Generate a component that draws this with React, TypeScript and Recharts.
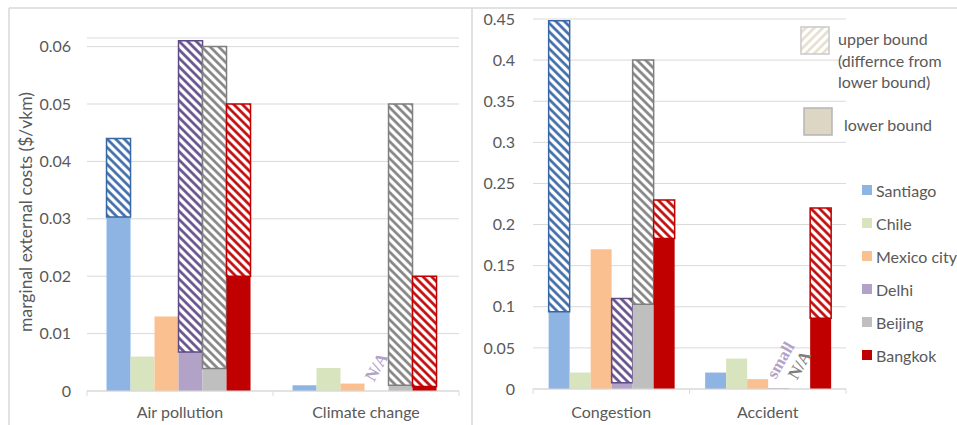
import React from 'react'
import { BarChart, Bar, XAxis, YAxis, CartesianGrid, LabelList } from 'recharts'

if (typeof document !== 'undefined') document.body.style.margin = '0'

const cities = ['Santiago', 'Chile', 'Mexico city', 'Delhi', 'Beijing', 'Bangkok']
const cityColors = ['#8eb4e3', '#d7e4bd', '#fac090', '#b3a2c7', '#bfbfbf', '#c00000']
const hatchColors = ['#3867a6', '#9bbb59', '#f79646', '#5f4a86', '#7f7f7f', '#c00000']
const noteColors = ['#8eb4e3', '#d7e4bd', '#fac090', '#b3a2c7', '#7f7f7f', '#c00000']

const leftCategories = ['Air pollution', 'Climate change']
const rightCategories = ['Congestion', 'Accident']
const leftTicks = [0, 0.01, 0.02, 0.03, 0.04, 0.05, 0.06]
const rightTicks = [0, 0.05, 0.1, 0.15, 0.2, 0.25, 0.3, 0.35, 0.4, 0.45]

// lower bound per city, upper bound (total) per city, null = no upper bound
const airLower = [0.0303, 0.006, 0.013, 0.0068, 0.0039, 0.02]
const airUpper = [0.044, null, null, 0.061, 0.06, 0.05]
const climateLower = [0.001, 0.004, 0.0013, 0, 0.001, 0.0008]
const climateUpper = [null, null, null, null, 0.05, 0.02]
const congestionLower = [0.094, 0.02, 0.17, 0.0077, 0.103, 0.183]
const congestionUpper = [0.448, null, null, 0.11, 0.4, 0.23]
const accidentLower = [0.02, 0.037, 0.012, 0.001, 0, 0.086]
const accidentUpper = [null, null, null, null, null, 0.22]

const airNotes: (string | null)[] = [null, null, null, null, null, null]
const climateNotes = [null, null, null, 'N/A', null, null]
const congestionNotes: (string | null)[] = [null, null, null, null, null, null]
const accidentNotes = [null, null, null, 'small', 'N/A', null]

const FONT = 'Lato, "Open Sans", sans-serif'
const TEXT = '#595959'
const GRID = '#d9d9d9'

function buildRow(name: string, lower: number[], upper: (number | null)[], notes: (string | null)[]) {
  const row: any = { name }
  cities.forEach((_, i) => {
    row[`lo${i}`] = lower[i]
    row[`up${i}`] = upper[i] == null ? 0 : (upper[i] as number) - lower[i]
    row[`nb${i}`] = 0
    row[`note${i}`] = notes[i]
  })
  return row
}

const leftData = [
  buildRow(leftCategories[0], airLower, airUpper, airNotes),
  buildRow(leftCategories[1], climateLower, climateUpper, climateNotes),
]
const rightData = [
  buildRow(rightCategories[0], congestionLower, congestionUpper, congestionNotes),
  buildRow(rightCategories[1], accidentLower, accidentUpper, accidentNotes),
]

function CategoryTick(props: any) {
  const { x, y, payload, index, half, labelDy } = props
  return (
    <g>
      {index === 0 && <line x1={x - half} x2={x - half} y1={y} y2={y + 5} stroke={GRID} />}
      <line x1={x + half} x2={x + half} y1={y} y2={y + 5} stroke={GRID} />
      <text x={x} y={y + labelDy} textAnchor="middle" fill={TEXT} fontSize={16} fontFamily={FONT}>
        {payload.value}
      </text>
    </g>
  )
}

const renderNote = (i: number) => (props: any) => {
  const { x, y, width, height, value } = props
  if (!value) return null
  const cx = Number(x) + Number(width) / 2 + (value === 'small' ? 2 : 0)
  const cy = Number(y) + Number(height) - (value === 'small' ? 28 : 24)
  return (
    <text
      x={cx}
      y={cy}
      transform={`rotate(-60 ${cx} ${cy})`}
      textAnchor="middle"
      dominantBaseline="central"
      fill={noteColors[i]}
      fontSize={17}
      fontWeight="bold"
      fontFamily='"Liberation Serif", serif'
    >
      {value}
    </text>
  )
}

function Panel(props: any) {
  const { data, width, height, margin, domain, ticks, yWidth, tickMargin, gap, prefix, labelDy } = props
  const plotW = width - margin.left - margin.right - yWidth
  const half = plotW / data.length / 2
  return (
    <BarChart width={width} height={height} data={data} margin={margin} barCategoryGap={gap} barGap={0}>
      <defs>
        {cities.map((c, i) => (
          <pattern
            key={c}
            id={`${prefix}h${i}`}
            width={6}
            height={6}
            patternUnits="userSpaceOnUse"
            patternTransform="rotate(-45)"
          >
            <rect width={6} height={6} fill="#ffffff" />
            <line x1={1.5} x2={1.5} y1={0} y2={6} stroke={hatchColors[i]} strokeWidth={2.6} />
          </pattern>
        ))}
      </defs>
      <CartesianGrid vertical={false} stroke={GRID} />
      <XAxis
        dataKey="name"
        axisLine={{ stroke: GRID }}
        tickLine={false}
        tickSize={0}
        tickMargin={0}
        height={30}
        interval={0}
        tick={(p: any) => <CategoryTick {...p} half={half} labelDy={labelDy} />}
      />
      <YAxis
        type="number"
        domain={domain}
        ticks={ticks}
        interval={0}
        width={yWidth}
        axisLine={false}
        tickLine={false}
        tickSize={0}
        tickMargin={tickMargin}
        tick={{ fill: TEXT, fontSize: 16, fontFamily: FONT }}
      />
      {cities.map((c, i) => [
        <Bar key={`lo${i}`} dataKey={`lo${i}`} stackId={`s${i}`} fill={cityColors[i]} isAnimationActive={false} />,
        <Bar
          key={`up${i}`}
          dataKey={`up${i}`}
          stackId={`s${i}`}
          fill={`url(#${prefix}h${i})`}
          stroke={hatchColors[i]}
          strokeWidth={1.5}
          isAnimationActive={false}
        />,
        <Bar
          key={`nb${i}`}
          dataKey={`nb${i}`}
          stackId={`s${i}`}
          fill="none"
          legendType="none"
          minPointSize={(v: any, idx: number) => (data[idx] && data[idx][`note${i}`] ? 0.01 : 0)}
          isAnimationActive={false}
        >
          <LabelList dataKey={`note${i}`} content={renderNote(i)} />
        </Bar>,
      ])}
    </BarChart>
  )
}

export default function App() {
  return (
    <div style={{ position: 'relative', width: 957, height: 425, overflow: 'hidden', background: '#fff', fontFamily: FONT }}>
      <svg width={957} height={425} style={{ position: 'absolute', left: 0, top: 0 }}>
        <line x1={9} x2={957} y1={8} y2={8} stroke={GRID} strokeWidth={1.5} />
        <line x1={9} x2={9} y1={8} y2={425} stroke={GRID} strokeWidth={1.5} />
        <line x1={472} x2={472} y1={8} y2={425} stroke={GRID} strokeWidth={1.5} />
      </svg>
      <div style={{ position: 'absolute', left: 0, top: 0 }}>
        <Panel
          data={leftData}
          width={472}
          height={425}
          margin={{ top: 38, right: 13, bottom: 4, left: 0 }}
          domain={[0, 0.0615]}
          ticks={leftTicks}
          yWidth={87}
          tickMargin={16}
          gap="10.5%"
          prefix="L"
          labelDy={27}
        />
      </div>
      <div style={{ position: 'absolute', left: 473, top: 0 }}>
        <Panel
          data={rightData}
          width={484}
          height={425}
          margin={{ top: 19, right: 111, bottom: 6, left: 0 }}
          domain={[0, 0.45]}
          ticks={rightTicks}
          yWidth={60}
          tickMargin={18}
          gap="10%"
          prefix="R"
          labelDy={29}
        />
      </div>
      <svg width={957} height={425} style={{ position: 'absolute', left: 0, top: 0, pointerEvents: 'none' }}>
        <defs>
          <pattern id="legendHatch" width={6} height={6} patternUnits="userSpaceOnUse" patternTransform="rotate(45)">
            <rect width={6} height={6} fill="#ffffff" />
            <line x1={1.5} x2={1.5} y1={0} y2={6} stroke="#e3dccb" strokeWidth={2.4} />
          </pattern>
        </defs>
        <text
          x={25}
          y={212}
          transform="rotate(-90 25 212)"
          textAnchor="middle"
          dominantBaseline="central"
          fill={TEXT}
          fontSize={17.5}
          fontFamily={FONT}
        >
          marginal external costs ($/vkm)
        </text>
        <rect x={801} y={27} width={28} height={27} fill="url(#legendHatch)" stroke="#c9c9c9" strokeWidth={1.5} />
        <text x={838} y={38} dominantBaseline="central" fill={TEXT} fontSize={16} fontFamily={FONT}>upper bound</text>
        <text x={838} y={60} dominantBaseline="central" fill={TEXT} fontSize={16} fontFamily={FONT}>(differnce from</text>
        <text x={838} y={81} dominantBaseline="central" fill={TEXT} fontSize={16} fontFamily={FONT}>lower bound)</text>
        <rect x={804} y={108} width={28} height={27} fill="#ddd6c4" stroke="#b5b5b5" strokeWidth={1.5} />
        <text x={844} y={124} dominantBaseline="central" fill={TEXT} fontSize={16} fontFamily={FONT}>lower bound</text>
        {cities.map((c, i) => (
          <g key={c}>
            <rect x={862} y={185 + i * 33} width={10} height={10} fill={cityColors[i]} />
            <text x={876} y={190 + i * 33} dominantBaseline="central" fill={TEXT} fontSize={16} fontFamily={FONT}>
              {c}
            </text>
          </g>
        ))}
      </svg>
    </div>
  )
}
